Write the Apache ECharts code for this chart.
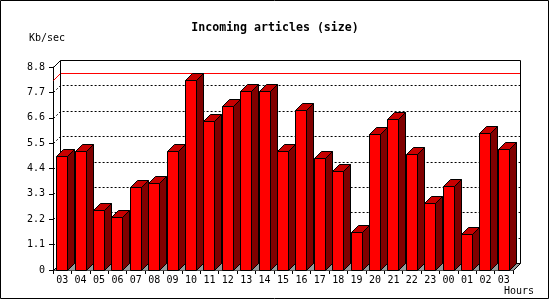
<!DOCTYPE html>
<html><head><meta charset="utf-8">
<script src="https://cdn.jsdelivr.net/npm/echarts@6/dist/echarts.min.js"></script>
<style>html,body{margin:0;padding:0;background:#fff}#c{width:550px;height:300px}</style>
</head><body><div id="c"></div>
<script>
const hours = ['03','04','05','06','07','08','09','10','11','12','13','14','15','16','17','18','19','20','21','22','23','00','01','02','03'];
const kbPerSec = [4.93,5.14,2.59,2.28,3.60,3.76,5.14,8.22,6.46,7.09,7.74,7.74,5.14,6.92,4.84,4.28,1.63,5.88,6.53,5.01,2.89,3.63,1.55,5.92,5.23];
const yTickValues = [0,1.1,2.2,3.3,4.4,5.5,6.6,7.7,8.8];
const yTickLabels = ['0','1.1','2.2','3.3','4.4','5.5','6.6','7.7','8.8'];
const chartTitle = 'Incoming articles (size)';
const yUnit = 'Kb/sec';
const xUnit = 'Hours';

const D = 7;
const FRONT = '#ff0000', TOP = '#c80000', SIDE = '#800000', FLOOR = '#999999';
const FONT = 'DejaVu Sans Mono';
const yMin = yTickValues[0], yMax = yTickValues[yTickValues.length - 1];
const yStep = yTickValues[1] - yTickValues[0];
const maxVal = Math.max.apply(null, kbPerSec);
const p = v => Math.round(v) + 0.5;

function renderFrame(params, api) {
  const cs = params.coordSys;
  const x0 = p(cs.x), x1 = p(cs.x + cs.width);
  const yOf = v => p(api.coord([0, v])[1]);
  const yb = yOf(yMin), yt = yOf(yMax);
  const ch = [];
  ch.push({type: 'polygon', shape: {points: [[x0, yb], [x0 + D, yb - D], [x1 + D, yb - D], [x1, yb]]},
    style: {fill: FLOOR}});
  yTickValues.slice(1, -1).forEach(v => {
    const y = yOf(v);
    ch.push({type: 'polyline', shape: {points: [[x0, y], [x0 + D, y - D], [x1 + D, y - D]]},
      style: {stroke: '#000', lineWidth: 1, lineDash: [2, 2], fill: null}});
  });
  const ym = yOf(maxVal);
  ch.push({type: 'polyline', shape: {points: [[x0, ym], [x0 + D, ym - D], [x1 + D, ym - D]]},
    style: {stroke: '#ff0000', lineWidth: 1, fill: null}});
  ch.push({type: 'polyline', shape: {points: [[x0, yt], [x0 + D, yt - D], [x1 + D, yt - D], [x1 + D, yb - D], [x1, yb]]},
    style: {stroke: '#000', lineWidth: 1, fill: null}});
  ch.push({type: 'polyline', shape: {points: [[x0, yb], [x0 + D, yb - D], [x0 + D, yt - D]]},
    style: {stroke: '#000', lineWidth: 1, fill: null}});
  ch.push({type: 'polyline', shape: {points: [[x0 + D, yb - D], [x1 + D, yb - D]]},
    style: {stroke: '#000', lineWidth: 1, fill: null}});
  return {type: 'group', children: ch};
}

function renderBar(params, api) {
  const i = api.value(0), v = api.value(1);
  const c = api.coord([i, v]);
  const b = p(api.coord([i, yMin])[1]);
  const t = p(c[1]);
  const w = api.size([1, 0])[0] * 0.6;
  const l = Math.floor(c[0] - w / 2) + 0.5;
  const r = l + Math.round(w);
  const st = f => ({fill: f, stroke: '#000', lineWidth: 1});
  return {type: 'group', children: [
    {type: 'polygon', shape: {points: [[r, t], [r + D, t - D], [r + D, b - D], [r, b]]}, style: st(SIDE)},
    {type: 'polygon', shape: {points: [[l, t], [l + D, t - D], [r + D, t - D], [r, t]]}, style: st(TOP)},
    {type: 'polygon', shape: {points: [[l, t], [r, t], [r, b], [l, b]]}, style: st(FRONT)}
  ]};
}

const chart = echarts.init(document.getElementById('c'), null, {renderer: 'canvas'});
chart.setOption({
  animation: false,
  backgroundColor: '#fff',
  title: [
    {text: chartTitle, left: 'center', top: 22, padding: 0, textStyle: {fontFamily: FONT, fontSize: 11.6, fontWeight: 'bold', color: '#000'}},
    {text: yUnit, left: 29, top: 33, padding: 0, textStyle: {fontFamily: FONT, fontSize: 10, fontWeight: 'normal', color: '#000'}},
    {text: xUnit, left: 504, top: 286, padding: 0, textStyle: {fontFamily: FONT, fontSize: 10, fontWeight: 'normal', color: '#000'}}
  ],
  graphic: [{type: 'rect', shape: {x: 0.5, y: 0.5, width: 548, height: 298}, style: {fill: null, stroke: '#000', lineWidth: 1}, silent: true}],
  grid: {left: 53, right: 37, top: 67, bottom: 30, containLabel: false},
  xAxis: {
    type: 'category', data: hours, boundaryGap: true,
    axisLine: {lineStyle: {color: '#000', width: 1}},
    axisTick: {show: true, length: 4, lineStyle: {color: '#000'}},
    axisLabel: {margin: 5, fontFamily: FONT, fontSize: 10, color: '#000', interval: 0},
    splitLine: {show: false}
  },
  yAxis: {
    type: 'value', min: yMin, max: yMax, interval: yStep,
    axisLine: {show: true, lineStyle: {color: '#000', width: 1}},
    axisTick: {show: true, length: 4, lineStyle: {color: '#000'}},
    axisLabel: {margin: 8, fontFamily: FONT, fontSize: 10, color: '#000',
      formatter: v => { const k = yTickValues.findIndex(t => Math.abs(t - v) < 1e-6); return k >= 0 ? yTickLabels[k] : ''; }},
    splitLine: {show: false}
  },
  series: [
    {type: 'custom', name: 'frame', z: 1, renderItem: renderFrame, data: [[0, 0]], clip: false, silent: true},
    {type: 'custom', name: 'Incoming', z: 3, renderItem: renderBar, clip: false,
      data: kbPerSec.map((v, i) => [i, v])}
  ]
});
</script></body></html>
